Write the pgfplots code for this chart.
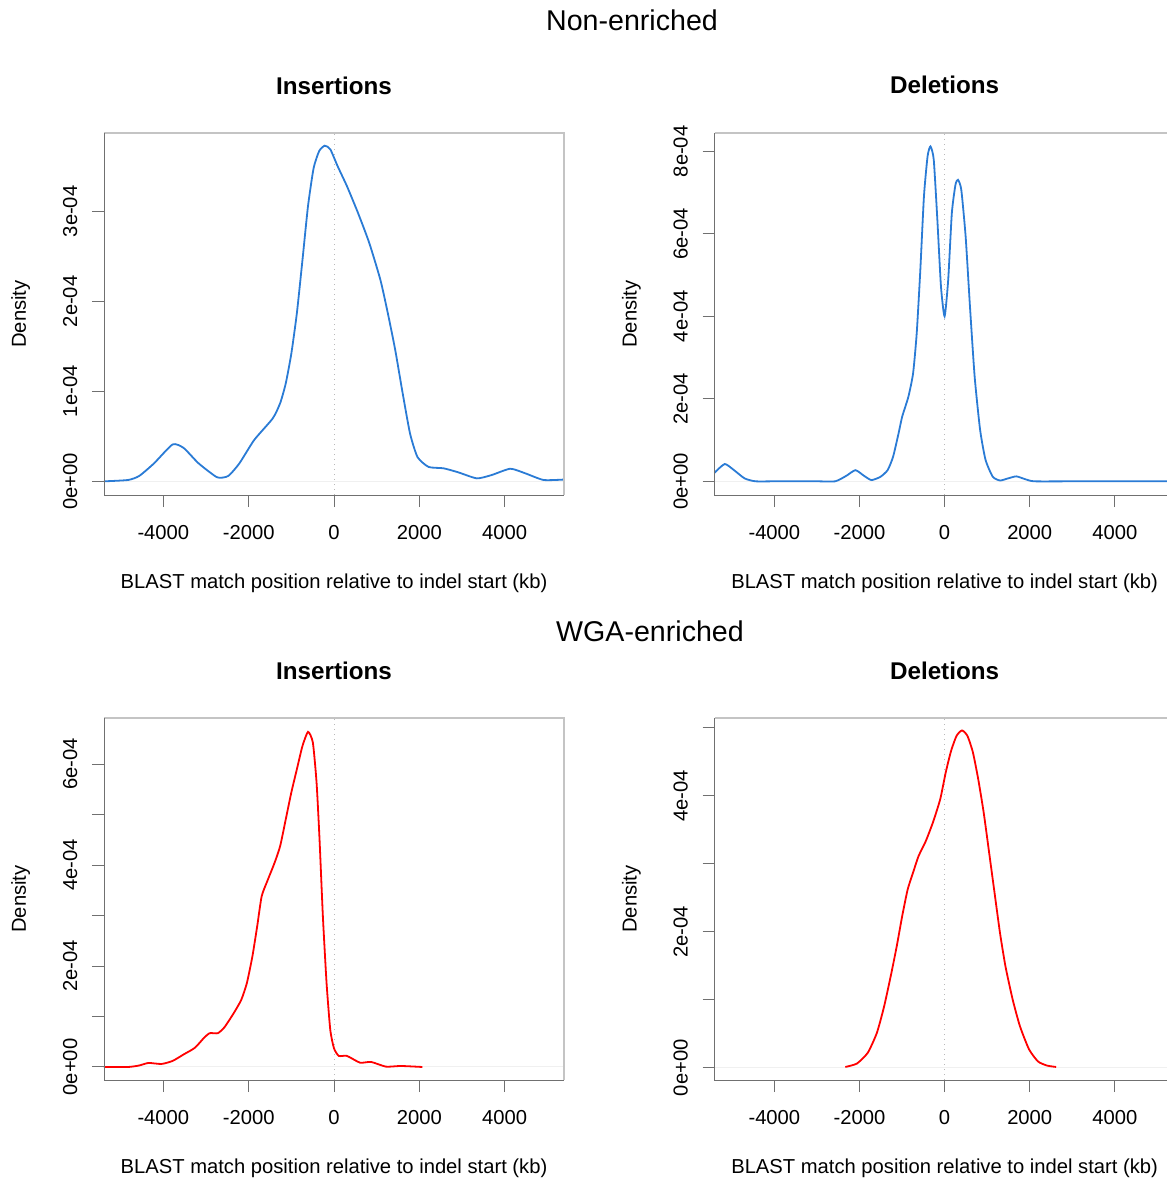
\documentclass[border=0pt]{standalone}
\usepackage{fontspec}
\setmainfont{Liberation Sans}
\usepackage{pgfplots}
\pgfplotsset{compat=1.18}
\definecolor{rblue}{HTML}{2A7BD5}
\definecolor{tickgray}{HTML}{707070}
\definecolor{boxlight}{HTML}{C4C4C4}
\newcommand\fs{\fontsize{10.1pt}{12pt}\selectfont}
\pgfplotsset{
  panel/.style={
    scale only axis, width=230pt, height=181pt,
    axis line style={draw=none},
    tick style={color=tickgray, line width=0.5pt},
    major tick length=6pt, tick align=outside,
    xtick pos=lower, ytick pos=left,
    xtick={-4000,-2000,0,2000,4000},
    xticklabels={-4000,-2000,0,2000,4000},
    xticklabel style={font=\fs, anchor=base, yshift=-16pt},
    yticklabel style={font=\fs, xshift=-7.5pt, rotate=90, anchor=base},
    xlabel={BLAST match position relative to indel start (kb)},
    ylabel={Density},
    xlabel style={font=\fs, at={(axis description cs:0.5,-0.2596)}, anchor=base},
    ylabel style={font=\fs, at={(axis description cs:-0.1696,0.5)}, anchor=base},
    title style={font=\fontsize{12.1pt}{14pt}\selectfont\bfseries, at={(axis description cs:0.5,1.0746)}, anchor=base},
    clip=false, anchor=south west,
  },
  dens/.style={line width=0.9pt, smooth, tension=0.35},
  zl/.style={gray!12, line width=0.5pt},
  vl/.style={gray!55, dotted, line width=0.5pt},
}
\begin{document}
\begin{tikzpicture}
\useasboundingbox (0pt,0pt) rectangle (583.5pt,-589.5pt);
\node[font=\fontsize{14.3pt}{17pt}\selectfont, anchor=base] at (316pt,-15pt) {Non-enriched};
\node[font=\fontsize{14.3pt}{17pt}\selectfont, anchor=base] at (325pt,-320.5pt) {WGA-enriched};

% ---------- Top left
\begin{axis}[panel, at={(52pt,-247.5pt)}, xmin=-5391, xmax=5391, ymin=-0.152, ymax=3.871,
  ytick={0,1,2,3}, yticklabels={0e+00,1e-04,2e-04,3e-04}, title={Insertions}]
\addplot[zl] coordinates {(-5391,0) (5391,0)};
\addplot[vl] coordinates {(0,-0.152) (0,3.871)};
\addplot[rblue, dens] coordinates {
(-5391,0.0) (-4826,0.015) (-4565,0.06) (-4218,0.2) (-3783,0.41) (-3522,0.37) (-3174,0.20)
(-2739,0.045) (-2478,0.06) (-2217,0.2) (-1870,0.46) (-1435,0.70) (-1261,0.87) (-1130,1.09)
(-1000,1.42) (-870,1.87) (-739,2.46) (-609,3.06) (-478,3.48) (-348,3.67) (-217,3.73)
(-87,3.69) (87,3.50) (304,3.28) (565,2.98) (826,2.65) (1087,2.24) (1261,1.87) (1435,1.46)
(1609,0.98) (1783,0.53) (1957,0.27) (2217,0.16) (2565,0.145) (2913,0.10) (3348,0.033)
(3696,0.07) (4131,0.14) (4478,0.09) (4913,0.015) (5391,0.02)};
\draw[boxlight, line width=1pt] (rel axis cs:0,1) -- (rel axis cs:1,1) -- (rel axis cs:1,0);
\draw[tickgray, line width=0.5pt] (rel axis cs:0,1) -- (rel axis cs:0,0) -- (rel axis cs:1,0);
\end{axis}

% ---------- Top right
\begin{axis}[panel, at={(357.3pt,-247.5pt)}, xmin=-5404, xmax=5404, ymin=-0.332, ymax=8.445,
  ytick={0,2,4,6,8}, yticklabels={0e+00,2e-04,4e-04,6e-04,8e-04}, title={Deletions}]
\addplot[zl] coordinates {(-5404,0) (5404,0)};
\addplot[vl] coordinates {(0,-0.332) (0,8.445)};
\addplot[rblue, dens] coordinates {
(-5404,0.21) (-5166,0.42) (-4953,0.275) (-4698,0.07) (-4443,0.0) (-4000,0.0) (-3000,0.0)
(-2570,0.0) (-2315,0.13) (-2094,0.27) (-1889,0.13) (-1719,0.03) (-1506,0.11) (-1336,0.275)
(-1209,0.60) (-1081,1.165) (-996,1.57) (-851,2.05) (-740,2.62) (-655,3.59) (-570,5.13)
(-485,6.91) (-400,7.88) (-332,8.12) (-255,7.80) (-170,6.34) (-85,4.72) (0,4.0) (85,4.89)
(170,6.50) (255,7.19) (315,7.31) (392,7.07) (494,5.94) (596,4.24) (706,2.54) (834,1.25)
(962,0.52) (1132,0.11) (1302,0.02) (1472,0.065) (1685,0.12) (1898,0.05) (2111,0.0)
(3000,0.0) (4000,0.0) (5404,0.0)};
\draw[boxlight, line width=1pt] (rel axis cs:0,1) -- (rel axis cs:1,1) -- (rel axis cs:1,0);
\draw[tickgray, line width=0.5pt] (rel axis cs:0,1) -- (rel axis cs:0,0) -- (rel axis cs:1,0);
\end{axis}

% ---------- Bottom left
\begin{axis}[panel, at={(52pt,-540pt)}, xmin=-5391, xmax=5391, ymin=-0.258, ymax=6.914,
  ytick={0,1,2,3,4,5,6}, yticklabels={0e+00,,2e-04,,4e-04,,6e-04}, title={Insertions}]
\addplot[zl] coordinates {(-5391,0) (5391,0)};
\addplot[vl] coordinates {(0,-0.258) (0,6.914)};
\addplot[red, dens] coordinates {
(-5391,0.0) (-4826,0.0) (-4565,0.03) (-4348,0.08) (-4043,0.06) (-3783,0.12) (-3522,0.25)
(-3261,0.38) (-3044,0.58) (-2913,0.67) (-2722,0.67) (-2565,0.79) (-2348,1.07) (-2174,1.33)
(-2043,1.66) (-1913,2.19) (-1800,2.79) (-1696,3.38) (-1565,3.68) (-1391,4.05) (-1261,4.38)
(-1130,4.91) (-1000,5.44) (-870,5.90) (-739,6.36) (-609,6.64) (-496,6.43) (-409,5.64)
(-339,4.51) (-261,2.99) (-174,1.66) (-87,0.735) (0,0.37) (113,0.22) (304,0.22) (609,0.086)
(870,0.10) (1217,0.007) (1565,0.02) (2070,0.0)};
\draw[boxlight, line width=1pt] (rel axis cs:0,1) -- (rel axis cs:1,1) -- (rel axis cs:1,0);
\draw[tickgray, line width=0.5pt] (rel axis cs:0,1) -- (rel axis cs:0,0) -- (rel axis cs:1,0);
\end{axis}

% ---------- Bottom right
\begin{axis}[panel, at={(357.3pt,-540pt)}, xmin=-5404, xmax=5404, ymin=-0.182, ymax=5.142,
  ytick={0,1,2,3,4,5}, yticklabels={0e+00,,2e-04,,4e-04,}, title={Deletions}]
\addplot[zl] coordinates {(-5404,0) (5404,0)};
\addplot[vl] coordinates {(0,-0.182) (0,5.142)};
\addplot[red, dens] coordinates {
(-2332,0.01) (-2060,0.06) (-1804,0.22) (-1592,0.51) (-1421,0.90) (-1251,1.39) (-1123,1.79)
(-996,2.23) (-868,2.62) (-740,2.87) (-613,3.11) (-443,3.33) (-272,3.61) (-102,3.95)
(26,4.34) (153,4.66) (281,4.88) (409,4.96) (536,4.88) (664,4.64) (791,4.24) (919,3.75)
(1047,3.16) (1174,2.57) (1302,1.98) (1430,1.49) (1600,1.00) (1770,0.61) (1983,0.27)
(2196,0.09) (2409,0.03) (2621,0.01)};
\draw[boxlight, line width=1pt] (rel axis cs:0,1) -- (rel axis cs:1,1) -- (rel axis cs:1,0);
\draw[tickgray, line width=0.5pt] (rel axis cs:0,1) -- (rel axis cs:0,0) -- (rel axis cs:1,0);
\end{axis}
\end{tikzpicture}
\end{document}
